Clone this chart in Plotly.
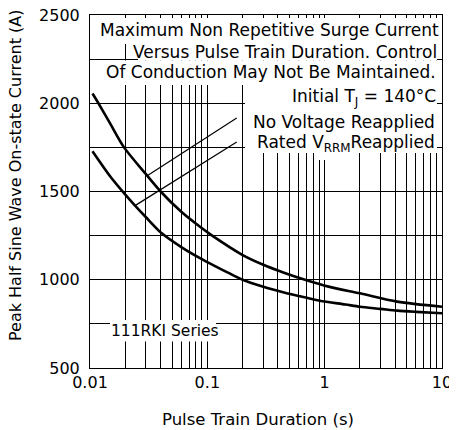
import plotly.graph_objects as go

# ---- data ----
duration_no_voltage = [0.0105, 0.0118, 0.015, 0.0195, 0.03, 0.04, 0.06, 0.0866, 0.11, 0.2, 0.3, 0.45, 0.68, 1.08, 2.0, 4.15, 10.0]
current_no_voltage = [2055, 2000, 1880, 1750, 1598, 1500, 1385, 1300, 1250, 1140, 1085, 1040, 1000, 961, 923, 876, 847]

duration_rated = [0.0105, 0.015, 0.02, 0.0242, 0.03, 0.0409, 0.06, 0.0866, 0.1, 0.15, 0.2, 0.3, 0.45, 0.62, 0.91, 1.5, 2.0, 3.0, 4.15, 6.0, 10.0]
current_rated = [1728, 1582, 1482, 1420, 1354, 1263, 1185, 1122, 1100, 1040, 1000, 960, 928, 906, 881, 860, 847, 835, 825, 818, 810]

x_grid_vals = [m * d for d in (0.01, 0.1, 1.0) for m in range(1, 10)] + [10.0]
x_tick_labels = {0.01: "0.01", 0.1: "0.1", 1.0: "1", 10.0: "10"}
x_tick_text = [next((t for k, t in x_tick_labels.items() if abs(v - k) < 1e-9), "") for v in x_grid_vals]
y_grid_vals = [500, 750, 1000, 1250, 1500, 1750, 2000, 2250, 2500]
y_tick_text = ["500", "", "1000", "", "1500", "", "2000", "", "2500"]

FONT = "DejaVu Sans"
BLACK = "#000000"

fig = go.Figure()
fig.add_trace(go.Scatter(x=duration_no_voltage, y=current_no_voltage, mode="lines",
                         line=dict(color=BLACK, width=2.6, shape="spline", smoothing=0.8),
                         showlegend=False, hoverinfo="skip"))
fig.add_trace(go.Scatter(x=duration_rated, y=current_rated, mode="lines",
                         line=dict(color=BLACK, width=2.6, shape="spline", smoothing=0.8),
                         showlegend=False, hoverinfo="skip"))

# page has an 8px body margin: size the figure so the plot lands at the target pixels
OFF = 8
PAGE_W, PAGE_H = 457, 430
W, H = PAGE_W - OFF, PAGE_H - OFF
PL, PR, PT, PB = 90, 442, 15, 368          # plot area in page pixels
L, R, T, B = PL - OFF, PAGE_W - PR, PT - OFF, PAGE_H - PB
PW, PH = PR - PL, PB - PT


def px(x):
    return (x - PL) / PW


def py(y):
    return (PB - y) / PH


shapes = []
# white masks behind the text blocks
for x0, x1, y0, y1 in [(91, 440, 18, 44), (138, 437, 44, 60.6), (91, 437, 60.6, 85),
                       (245, 437, 85, 153), (316, 332, 153, 160), (110, 216, 320, 341.5)]:
    shapes.append(dict(type="rect", xref="paper", yref="paper", x0=px(x0), x1=px(x1),
                       y0=py(y1), y1=py(y0), fillcolor="white", line=dict(width=0), layer="above"))
# leader lines
shapes.append(dict(type="line", xref="x", yref="y", x0=0.178, y0=1916, x1=0.0312, y1=1592,
                   line=dict(color=BLACK, width=1.2)))
shapes.append(dict(type="line", xref="x", yref="y", x0=0.178, y0=1780, x1=0.0242, y1=1420,
                   line=dict(color=BLACK, width=1.2)))

annots = []
txt_font = dict(family=FONT, size=17, color=BLACK)
for text, xr, yc in [("Maximum Non Repetitive Surge Current", 441, 30),
                     ("Versus Pulse Train Duration. Control", 439, 52),
                     ("Of Conduction May Not Be Maintained.", 438, 72),
                     ("Initial T<sub>J</sub> = 140°C", 438, 97),
                     ("No Voltage Reapplied", 437, 122),
                     ("Rated V<sub>RRM</sub>Reapplied", 437, 143)]:
    annots.append(dict(text=text, xref="paper", yref="paper", x=px(xr), y=py(yc),
                       xanchor="right", yanchor="middle", showarrow=False, font=txt_font))
annots.append(dict(text="111RKI Series", xref="paper", yref="paper", x=px(109), y=py(331),
                   xanchor="left", yanchor="middle", showarrow=False,
                   font=dict(family=FONT, size=15.5, color=BLACK)))
annots.append(dict(text="Peak Half Sine Wave On-state Current (A)", xref="paper", yref="paper",
                   x=px(16), y=py(176), xanchor="center", yanchor="middle", textangle=-90,
                   showarrow=False, font=dict(family=FONT, size=16, color=BLACK)))
annots.append(dict(text="Pulse Train Duration (s)", xref="paper", yref="paper",
                   x=px(258), y=py(419), xanchor="center", yanchor="middle",
                   showarrow=False, font=dict(family=FONT, size=16.5, color=BLACK)))

fig.update_layout(
    width=W, height=H,
    margin=dict(l=L, r=R, t=T, b=B, autoexpand=False),
    paper_bgcolor="white", plot_bgcolor="white",
    font=dict(family=FONT, size=15, color=BLACK),
    shapes=shapes, annotations=annots,
    xaxis=dict(type="log", range=[-2, 1], tickvals=x_grid_vals, ticktext=x_tick_text,
               showgrid=True, gridcolor=BLACK, gridwidth=1, ticks="", automargin=False,
               ticklabeloverflow="allow",
               showline=True, linecolor=BLACK, linewidth=1, mirror=True,
               tickfont=dict(family=FONT, size=16), zeroline=False),
    yaxis=dict(range=[500, 2500], tickvals=y_grid_vals, ticktext=y_tick_text,
               showgrid=True, gridcolor=BLACK, gridwidth=1, ticks="", automargin=False,
               ticklabeloverflow="allow",
               showline=True, linecolor=BLACK, linewidth=1, mirror=True,
               tickfont=dict(family=FONT, size=16), zeroline=False, ticklabelstandoff=6),
)

fig.write_html("out.html")
